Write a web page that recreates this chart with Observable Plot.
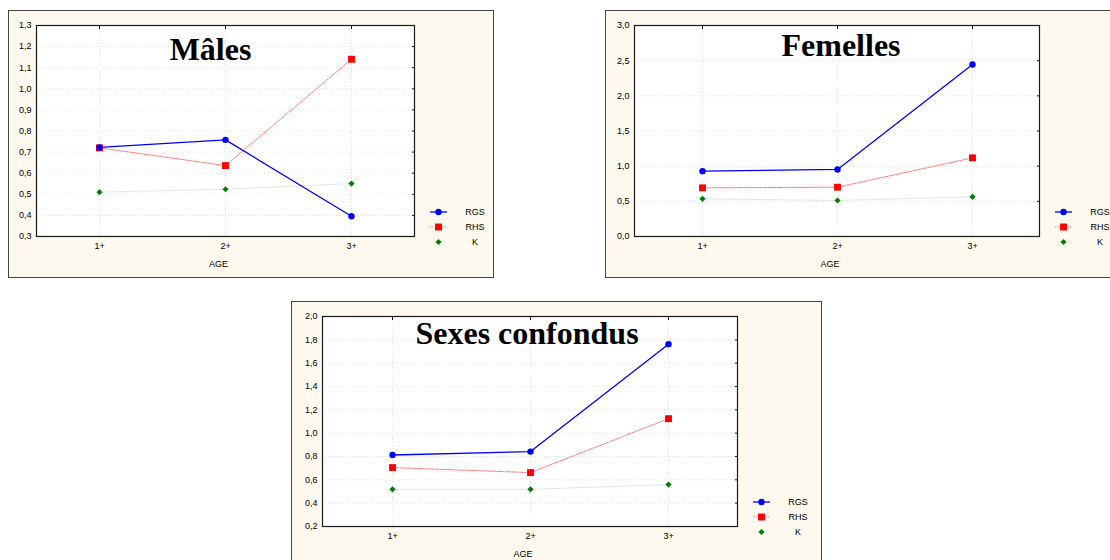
<!DOCTYPE html>
<html>
<head>
<meta charset="utf-8">
<script src="https://cdn.jsdelivr.net/npm/d3@7"></script>
<script src="https://cdn.jsdelivr.net/npm/@observablehq/plot@0.6"></script>
<style>
  html, body { margin: 0; padding: 0; background: #ffffff; overflow: hidden; width: 1110px; height: 560px; }
  .panel { position: absolute; background: #fef9ee; outline: 1px solid #444; box-shadow: 1px 1px 0 #777; }
  .panel svg { display: block; }
</style>
</head>
<body>
<div id="root"></div>
<script>
// ---- data ----
const ages = ["1+", "2+", "3+"];
const seriesNames = ["RGS", "RHS", "K"];

const malesRGS = [0.722, 0.758, 0.396];
const malesRHS = [0.720, 0.636, 1.140];
const malesK   = [0.510, 0.524, 0.551];

const femRGS = [0.929, 0.953, 2.445];
const femRHS = [0.692, 0.701, 1.118];
const femK   = [0.536, 0.512, 0.564];

const allRGS = [0.813, 0.842, 1.763];
const allRHS = [0.705, 0.662, 1.124];
const allK   = [0.519, 0.519, 0.559];

const malesTicks = [0.3, 0.4, 0.5, 0.6, 0.7, 0.8, 0.9, 1.0, 1.1, 1.2, 1.3];
const femTicks   = [0.0, 0.5, 1.0, 1.5, 2.0, 2.5, 3.0];
const allTicks   = [0.2, 0.4, 0.6, 0.8, 1.0, 1.2, 1.4, 1.6, 1.8, 2.0];

const titles = ["Mâles", "Femelles", "Sexes confondus"];
const xLabel = "AGE";

// ---- styles ----
const styles = {
  RGS: {stroke: "#0000ff", width: 1.3, dash: null, symbol: "circle", r: 3.2, fill: "#0000ff"},
  RHS: {stroke: "#ff6a6a", width: 1, dash: "1.2,1.3", symbol: "square", r: 3.9, fill: "#ff0000"},
  K:   {stroke: "#d3e3d3", width: 1, dash: "1,1.5", symbol: "diamond2", r: 2.8, fill: "#008000"}
};

const panels = [
  {title: titles[0], values: [malesRGS, malesRHS, malesK], ticks: malesTicks,
   left: 9, top: 11, w: 484, h: 266, mL: 27, mT: 14, mR: 79, mB: 41, tdx: -15, tdy: 34},
  {title: titles[1], values: [femRGS, femRHS, femK], ticks: femTicks,
   left: 606, top: 11, w: 524, h: 266, mL: 28, mT: 14, mR: 91, mB: 41, tdx: 4, tdy: 30},
  {title: titles[2], values: [allRGS, allRHS, allK], ticks: allTicks,
   left: 292, top: 302, w: 529, h: 266, mL: 30, mT: 14, mR: 84, mB: 42, tdx: -3, tdy: 27}
];

const fmt = d => d3.format(".1f")(d).replace(".", ",");

function buildPanel(p) {
  const rows = [];
  seriesNames.forEach((s, i) => ages.forEach((a, j) => rows.push({series: s, age: a, value: p.values[i][j]})));
  const order = ["K", "RHS", "RGS"];
  const marks = [
    Plot.frame({fill: "white", stroke: null}),
    Plot.gridY(p.ticks, {stroke: "#e0e0e0", strokeOpacity: 1, strokeDasharray: "1,2"}),
    Plot.gridX(ages, {stroke: "#e0e0e0", strokeOpacity: 1, strokeDasharray: "1,2"})
  ];
  order.forEach(s => {
    const st = styles[s];
    const data = rows.filter(r => r.series === s);
    marks.push(Plot.line(data, {x: "age", y: "value", stroke: st.stroke, strokeWidth: st.width, strokeDasharray: st.dash}));
  });
  order.forEach(s => {
    const st = styles[s];
    const data = rows.filter(r => r.series === s);
    marks.push(Plot.dot(data, {x: "age", y: "value", symbol: () => st.symbol, r: st.r, fill: st.fill, stroke: null}));
  });
  marks.push(
    Plot.frame({stroke: "#1a1a1a", strokeWidth: 1.2}),
    Plot.axisY(p.ticks, {anchor: "right", tickSize: -3, tickFormat: () => "", label: null, stroke: "#1a1a1a"}),
    Plot.axisX(ages, {anchor: "top", tickSize: -3, tickFormat: () => "", label: null, stroke: "#1a1a1a"}),
    Plot.axisY(p.ticks, {tickSize: 0, tickPadding: 5, tickFormat: fmt, label: null, fontSize: 9}),
    Plot.axisX(ages, {tickSize: 0, tickPadding: 6, label: null, fontSize: 9}),
    Plot.text([xLabel], {text: d => d, frameAnchor: "bottom", dx: -7, dy: 28, lineAnchor: "middle", fontSize: 9}),
    Plot.text([p.title], {text: d => d, frameAnchor: "top", dx: p.tdx, dy: p.tdy, lineAnchor: "bottom",
      fontFamily: "Liberation Serif", fontWeight: "bold", fontSize: 32, fill: "#000"})
  );
  const svg = Plot.plot({
    width: p.w, height: p.h,
    marginLeft: p.mL, marginTop: p.mT, marginRight: p.mR, marginBottom: p.mB,
    style: {background: "transparent", fontFamily: "Liberation Sans, Arial, sans-serif", fontSize: "9px", color: "#000", overflow: "visible"},
    x: {type: "point", domain: ages, padding: 0.5, label: null},
    y: {domain: [p.ticks[0], p.ticks[p.ticks.length - 1]], label: null},
    marks
  });

  // legend
  const plotRight = p.w - p.mR;
  const plotBottom = p.h - p.mB;
  const g = d3.select(svg).append("g").attr("font-family", "Liberation Sans, Arial, sans-serif").attr("font-size", 9);
  const rowsY = [-24, -9, 6];
  seriesNames.forEach((s, i) => {
    const st = styles[s];
    const y = plotBottom + rowsY[i];
    g.append("line").attr("x1", plotRight + 16).attr("x2", plotRight + 33).attr("y1", y).attr("y2", y)
      .attr("stroke", st.stroke).attr("stroke-width", st.width).attr("stroke-dasharray", st.dash);
    const sym = {circle: d3.symbolCircle, square: d3.symbolSquare, diamond2: d3.symbolDiamond2}[st.symbol];
    g.append("path").attr("d", d3.symbol(sym, Math.PI * st.r * st.r)())
      .attr("transform", `translate(${plotRight + 24.5},${y})`).attr("fill", st.fill);
    g.append("text").attr("x", plotRight + 61).attr("y", y).attr("dy", "0.32em")
      .attr("text-anchor", "middle").attr("fill", "#000").text(s);
  });

  const div = document.createElement("div");
  div.className = "panel";
  div.style.left = p.left + "px";
  div.style.top = p.top + "px";
  div.style.width = p.w + "px";
  div.style.height = p.h + "px";
  div.appendChild(svg);
  document.getElementById("root").appendChild(div);
}

panels.forEach(buildPanel);
</script>
</body>
</html>
